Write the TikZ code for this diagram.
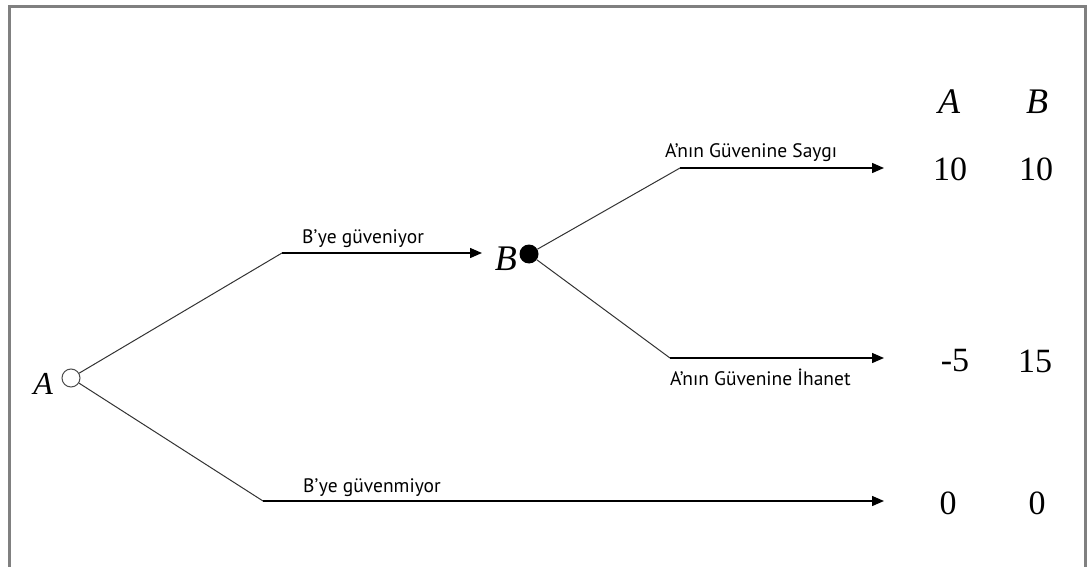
\documentclass[tikz,border=0pt]{standalone}
\usepackage{fontspec}
\setmainfont{Liberation Serif}
\newfontfamily\labelfont{PT Sans}
\usetikzlibrary{arrows.meta}
\begin{document}
\begin{tikzpicture}[x=1pt,y=-1pt,
  frameline/.style={draw=black!50,line width=3pt},
  branch/.style={draw=black!80,line width=1pt},
  tipline/.style={draw=black,line width=1.4pt,-{Triangle[length=12pt,width=10pt]}},
  movelabel/.style={font=\labelfont\fontsize{19.5}{22}\selectfont,anchor=base west,inner sep=0pt},
  player/.style={font=\fontsize{36}{40}\selectfont\itshape,inner sep=0pt},
  payoff/.style={font=\fontsize{34}{38}\selectfont,inner sep=0pt},
  opendot/.style={circle,draw=black!70,line width=1pt,fill=white,minimum size=18pt,inner sep=0pt},
  fulldot/.style={circle,fill=black,minimum size=19pt,inner sep=0pt}]
\useasboundingbox (0,0) rectangle (1090,567);
% frame, open at the bottom
\draw[frameline] (9.5,567) -- (9.5,7) -- (1085.5,7) -- (1085.5,567);

% decision nodes
\node[opendot] (rootA) at (71,378) {};
\node[player,anchor=east,font=\fontsize{32}{36}\selectfont\itshape] (labA) at (53,384) {A};
\node[fulldot] (nodeB) at (529,254) {};
\node[player,anchor=east] (labB) at (517,259) {B};

% bends and arrow ends
\coordinate (trustBend) at (282,253);
\coordinate (trustEnd) at (482,253);
\coordinate (noTrustBend) at (263,501);
\coordinate (noTrustEnd) at (884,501);
\coordinate (honourBend) at (680,168);
\coordinate (honourEnd) at (884,168);
\coordinate (betrayBend) at (670,358);
\coordinate (betrayEnd) at (884,358);

% branches
\draw[branch] (rootA) -- (trustBend);
\draw[tipline] (trustBend) -- (trustEnd);
\draw[branch] (rootA) -- (noTrustBend);
\draw[tipline] (noTrustBend) -- (noTrustEnd);
\draw[branch] (nodeB) -- (honourBend);
\draw[tipline] (honourBend) -- (honourEnd);
\draw[branch] (nodeB) -- (betrayBend);
\draw[tipline] (betrayBend) -- (betrayEnd);

% move labels
\node[movelabel] (mTrust) at (302,243) {B’ye güveniyor};
\node[movelabel] (mNoTrust) at (303,492) {B’ye güvenmiyor};
\node[movelabel] (mHonour) at (665,158) {A’nın Güvenine Saygı};
\node[movelabel] (mBetray) at (670,385) {A’nın Güvenine İhanet};

% payoff table
\node[player] (headA) at (949,102) {A};
\node[player] (headB) at (1037,102) {B};
\node[payoff] (p1a) at (950,169) {10};
\node[payoff] (p1b) at (1036,169) {10};
\node[payoff] (p2a) at (955,361) {-5};
\node[payoff] (p2b) at (1035,361) {15};
\node[payoff] (p3a) at (948,503) {0};
\node[payoff] (p3b) at (1037,503) {0};
\end{tikzpicture}
\end{document}
